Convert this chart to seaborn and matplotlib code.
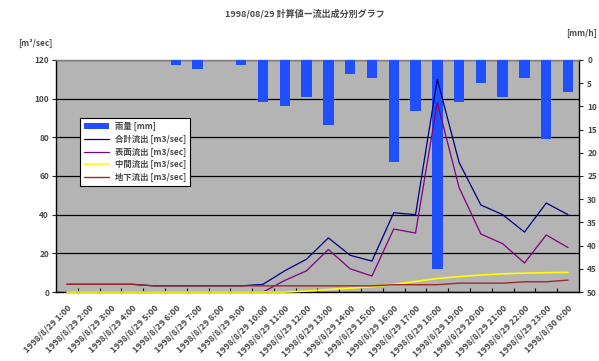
import numpy as np
import matplotlib
matplotlib.use("Agg")
import matplotlib.pyplot as plt
import seaborn as sns

sns.set_theme(style="white")
plt.rcParams['font.family'] = ['Noto Sans CJK JP', 'DejaVu Sans']

# ---- data -------------------------------------------------------------
title = "1998/08/29 計算値ー流出成分別グラフ"

hour_labels = [
    "1998/8/29 1:00", "1998/8/29 2:00", "1998/8/29 3:00", "1998/8/29 4:00",
    "1998/8/29 5:00", "1998/8/29 6:00", "1998/8/29 7:00", "1998/8/29 8:00",
    "1998/8/29 9:00", "1998/8/29 10:00", "1998/8/29 11:00", "1998/8/29 12:00",
    "1998/8/29 13:00", "1998/8/29 14:00", "1998/8/29 15:00", "1998/8/29 16:00",
    "1998/8/29 17:00", "1998/8/29 18:00", "1998/8/29 19:00", "1998/8/29 20:00",
    "1998/8/29 21:00", "1998/8/29 22:00", "1998/8/29 23:00", "1998/8/30 0:00",
]

# hourly rainfall [mm]
rain = [0, 0, 0, 0, 0, 1, 2, 0, 1, 9, 10, 8, 14, 3, 4, 22, 11, 45, 9, 5, 8, 4, 17, 7]

# runoff components [m3/sec]
total_flow = [4.0, 4.0, 4.0, 4.0, 3.2, 3.2, 3.2, 3.2, 3.2, 4.0, 11, 17, 28, 19, 16,
              41, 40, 110, 67, 45, 40, 31, 46, 40]
surface_flow = [0, 0, 0, 0, 0, 0, 0, 0, 0, 0, 6, 11, 22, 12, 8.3,
                32.6, 30.5, 98, 54, 30, 25, 15, 29.5, 23]
inter_flow = [0, 0, 0, 0, 0, 0, 0, 0, 0, 0, 0, 0.5, 1.3, 2.0, 2.7,
              4.0, 5.5, 7.0, 8.0, 8.8, 9.4, 9.8, 10.0, 10.2]
ground_flow = [4.0, 4.0, 4.0, 4.0, 3.2, 3.2, 3.2, 3.2, 3.2, 3.2, 3.2, 3.2, 3.2, 3.2, 3.2,
               3.8, 3.8, 3.8, 4.6, 4.6, 4.6, 5.3, 5.3, 6.2]

series = [
    ("合計流出 [m3/sec]", total_flow, "#000080", 0.9),
    ("表面流出 [m3/sec]", surface_flow, "#800080", 0.9),
    ("中間流出 [m3/sec]", inter_flow, "#ffff00", 1.2),
    ("地下流出 [m3/sec]", ground_flow, "#9a2a2a", 1.0),
]

pos = np.arange(len(hour_labels))
TXT = "#484848"

# ---- figure -----------------------------------------------------------
fig = plt.figure(figsize=(5.99, 3.61), dpi=100)
fig.patch.set_facecolor("white")

# back layer: grey plot area with the flow scale and grid
ax_grid = fig.add_axes([0.0935, 0.191, 0.873, 0.643])
ax_grid.set_facecolor("#b4b4b4")
ax_grid.set_zorder(0)

# middle layer: rainfall bars on an inverted right-hand scale
ax_bar = ax_grid.twinx()
ax_bar.set_zorder(1)
ax_bar.patch.set_visible(False)
sns.barplot(x=hour_labels, y=rain, color="#1f4fff", saturation=1, width=0.48,
            linewidth=0, ax=ax_bar, label="雨量 [mm]")

# front layer: runoff lines
ax_line = ax_grid.twinx()
ax_line.set_zorder(2)
ax_line.patch.set_visible(False)
for name, vals, col, lw in series:
    sns.lineplot(x=pos, y=vals, ax=ax_line, color=col, linewidth=lw,
                 label=name, clip_on=False)

for a in (ax_bar, ax_line):
    if a.get_legend() is not None:
        a.get_legend().remove()

# scales
ax_grid.set_xlim(-0.5, len(hour_labels) - 0.5)
ax_grid.set_ylim(0, 120)
ax_line.set_ylim(0, 120)
ax_bar.set_ylim(50, 0)

# grid
ax_grid.set_yticks(range(0, 121, 20))
ax_grid.yaxis.grid(True, color="black", linewidth=0.9)
ax_grid.xaxis.grid(False)

# x axis: labels at category centres, tick marks at boundaries
ax_grid.set_xticks(pos)
ax_grid.set_xticklabels(hour_labels, rotation=45, ha="right",
                        rotation_mode="anchor", fontsize=6.3,
                        fontweight="bold", color=TXT)
ax_grid.set_xticks(pos[:-1] + 0.5, minor=True)
ax_grid.tick_params(axis="x", which="major", length=0, pad=8)
ax_grid.tick_params(axis="x", which="minor", direction="in", length=3,
                    width=0.8, color="black", bottom=True)

ax_grid.tick_params(axis="y", direction="out", length=3, width=0.8,
                    labelsize=6, labelcolor=TXT, pad=2, left=True)
ax_bar.set_yticks(range(0, 51, 5))
ax_bar.tick_params(axis="y", direction="out", length=3, width=0.8,
                   labelsize=6, labelcolor=TXT, pad=3, right=True)
for lab in ax_grid.get_yticklabels() + ax_bar.get_yticklabels():
    lab.set_fontweight("bold")
ax_bar.set_xlabel("")
ax_bar.set_ylabel("")
ax_line.yaxis.set_visible(False)
ax_line.set_xlabel("")

for a in (ax_bar, ax_line):
    for s in a.spines.values():
        s.set_visible(False)
for side in ("left", "bottom", "right"):
    ax_grid.spines[side].set_color("black")
    ax_grid.spines[side].set_linewidth(1.0)
ax_grid.spines["top"].set_color("#808080")
ax_grid.spines["top"].set_linewidth(1.0)

# legend combining bars and lines
h1, l1 = ax_bar.get_legend_handles_labels()
h2, l2 = ax_line.get_legend_handles_labels()
leg = ax_line.legend(h1 + h2, l1 + l2, loc="upper left",
                     bbox_to_anchor=(0.046, 0.75),
                     prop={"size": 6, "weight": "bold"},
                     frameon=True, fancybox=False, edgecolor="black",
                     facecolor="white", framealpha=1, borderpad=0.45,
                     labelspacing=0.45, handlelength=3.0, handletextpad=0.8,
                     borderaxespad=0)
leg.get_frame().set_linewidth(0.8)
for t in leg.get_texts():
    t.set_color(TXT)

# titles and unit labels
fig.text(305 / 599, 1 - 14 / 361, title, ha="center", va="center",
         fontsize=6.5, fontweight="bold", color=TXT)
fig.text(18 / 599, 1 - 43 / 361, "[m³/sec]", ha="left", va="center",
         fontsize=6, fontweight="bold", color=TXT)
fig.text(597 / 599, 1 - 33 / 361, "[mm/h]", ha="right", va="center",
         fontsize=6, fontweight="bold", color=TXT)

fig.savefig("out.png", dpi=100, facecolor="white")
